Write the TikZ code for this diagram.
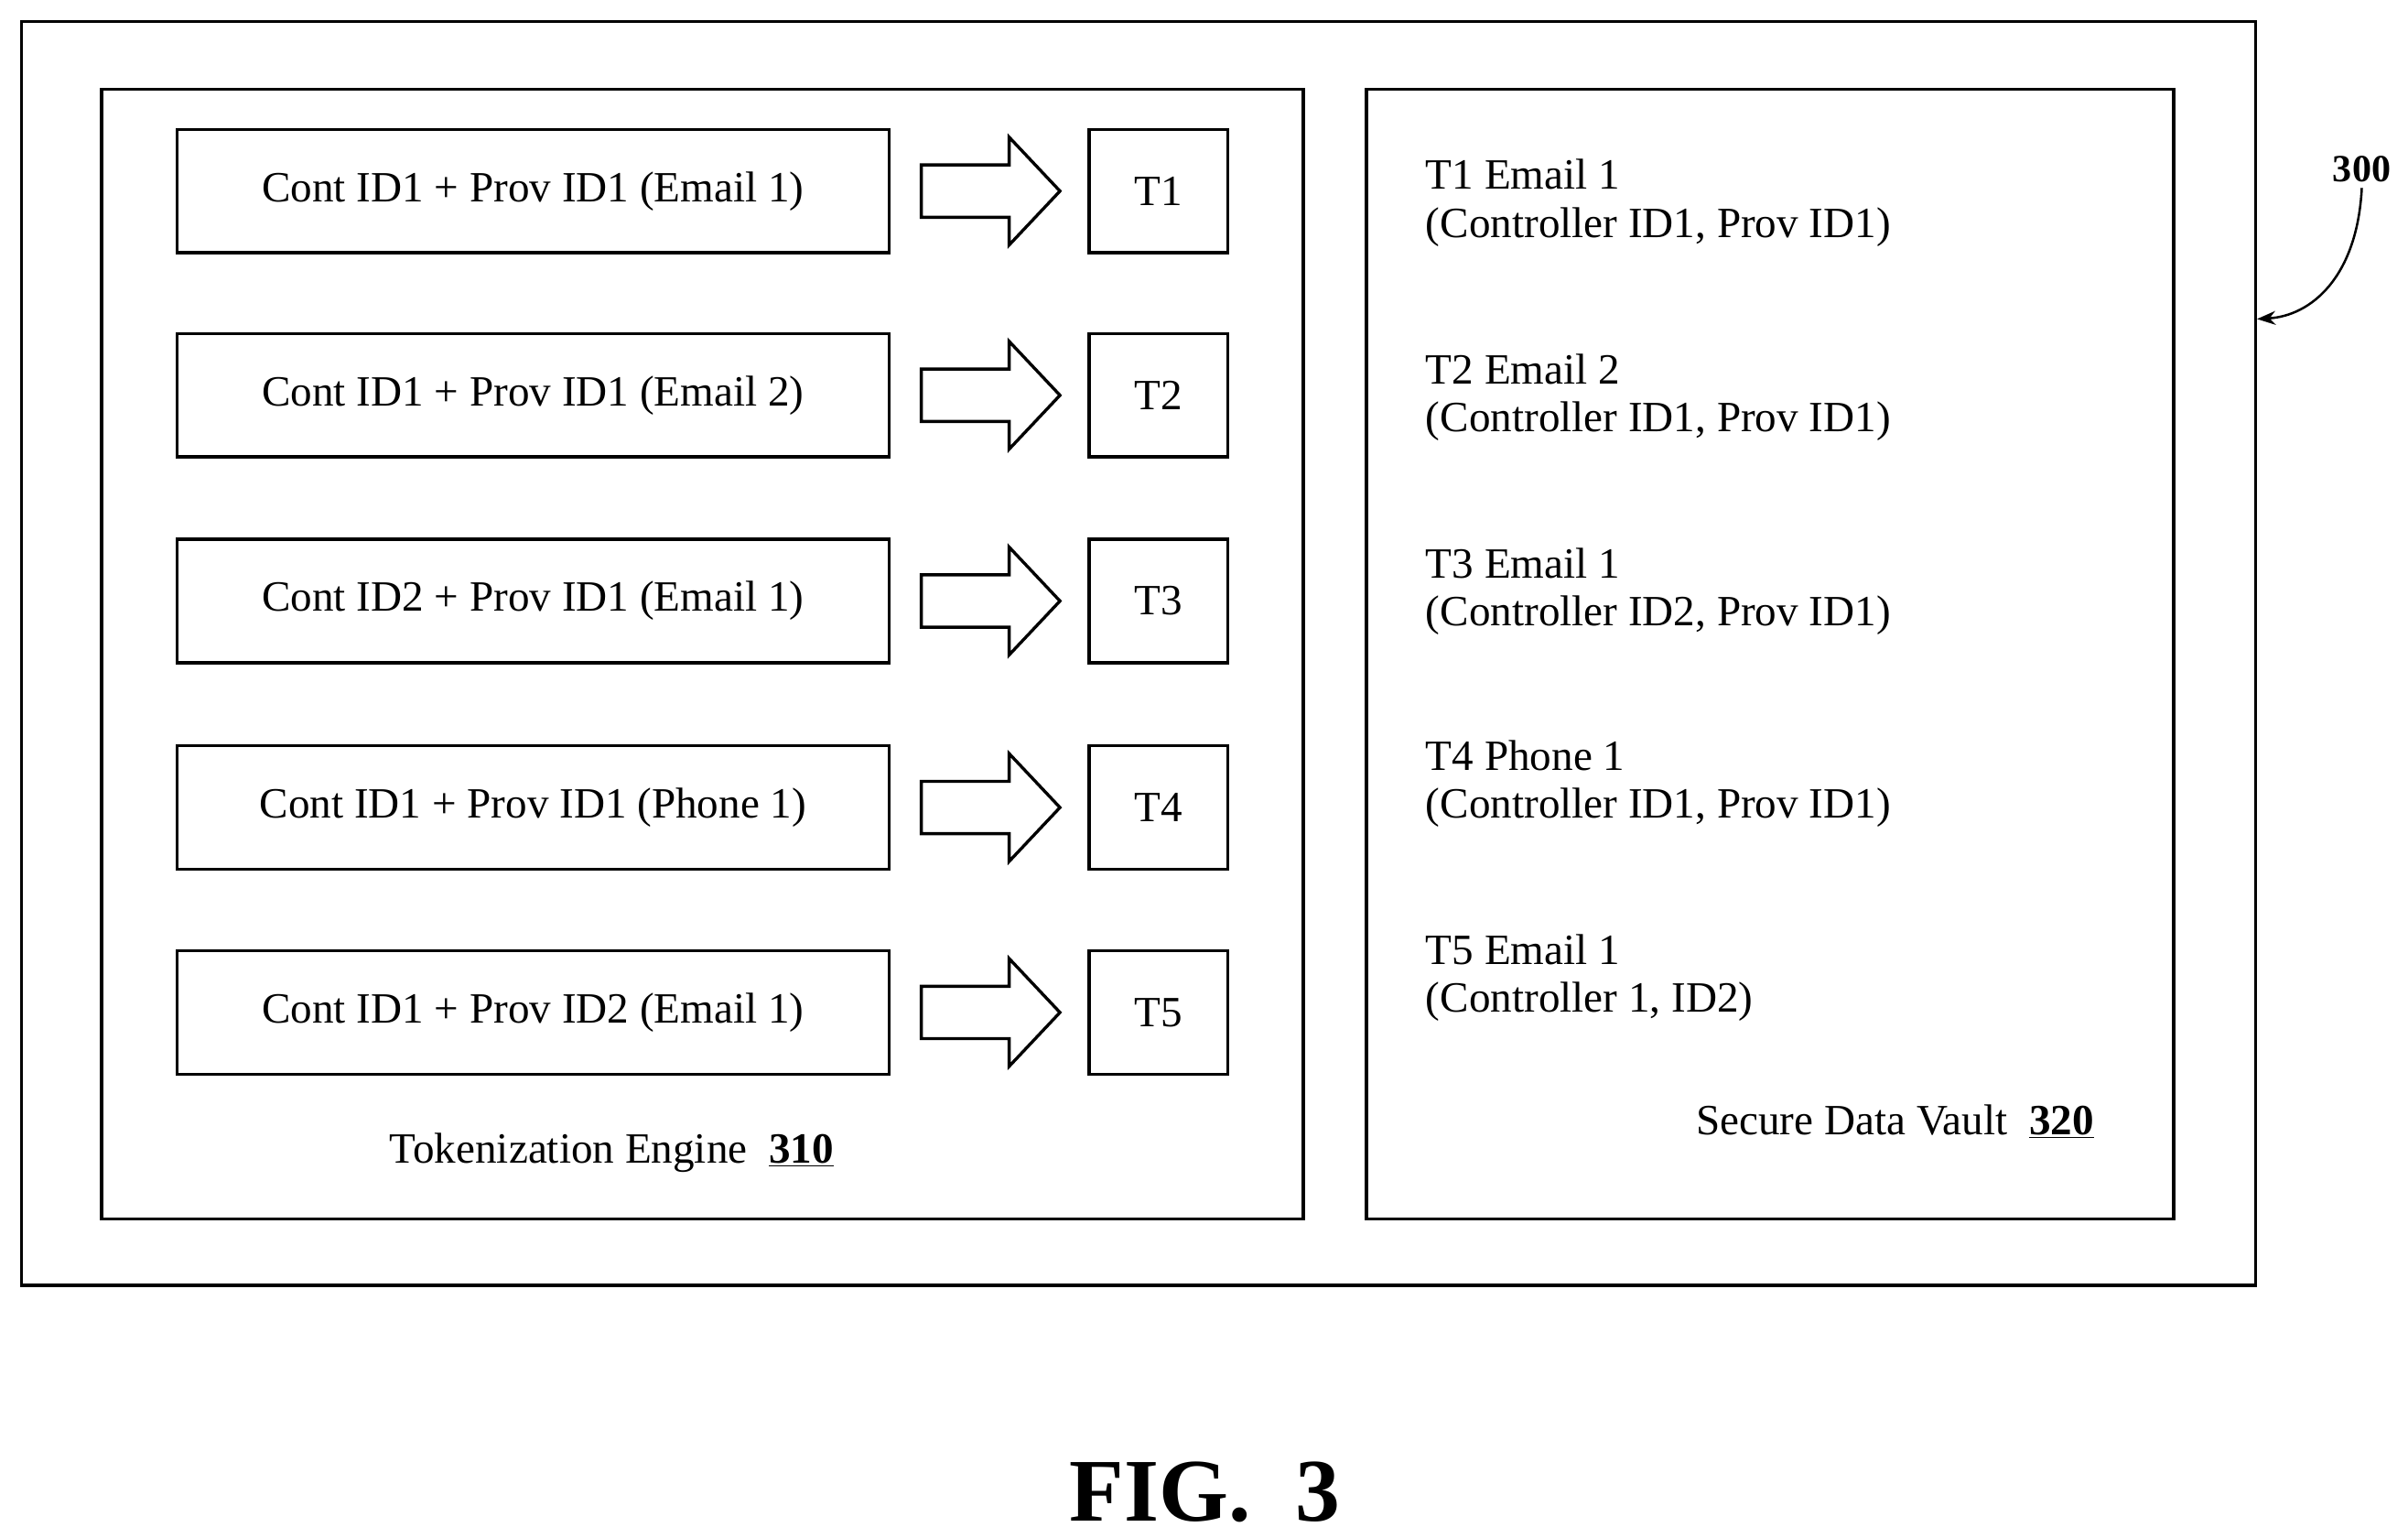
\documentclass[tikz,border=0pt]{standalone}
\usepackage{fontspec}
\setmainfont{Liberation Serif}
\usetikzlibrary{arrows.meta}
\begin{document}
\begin{tikzpicture}[x=1pt,y=-1pt,
 box/.style={draw,line width=2pt},
 inp/.style={box,minimum width=462pt,minimum height=80pt,font=\fontsize{28}{31}\selectfont},
 tok/.style={box,minimum width=90pt,minimum height=80pt,font=\fontsize{28}{31}\selectfont},
 vt/.style={anchor=north west,align=left,font=\fontsize{28}{31}\selectfont}]
\useasboundingbox (0,0) rectangle (1563,998);
\node[box,minimum width=1450pt,minimum height=820pt] (outer) at (739,424) {};
\node[box,minimum width=780pt,minimum height=733pt] (te) at (456,424.5) {};
\node[box,minimum width=524pt,minimum height=733pt] (sdv) at (1149,424.5) {};
\foreach \i/\y/\t in {1/124/Cont ID1 + Prov ID1 (Email 1),2/256.5/Cont ID1 + Prov ID1 (Email 2),3/390/Cont ID2 + Prov ID1 (Email 1),4/524/Cont ID1 + Prov ID1 (Phone 1),5/657/Cont ID1 + Prov ID2 (Email 1)}{
 \node[inp] (in\i) at (346,\y) {\t};
 \node[tok] (t\i) at (752,\y) {T\i};
 \coordinate (a\i) at (598,\y);
 \draw[line width=2pt,line join=miter] (a\i) ++(0,-17) -- ++(57,0) -- ++(0,-18) -- ++(33,35) -- ++(-33,35) -- ++(0,-18) -- ++(-57,0) -- cycle;
}
\node[vt] (v1) at (922,100) {T1 Email 1\\(Controller ID1, Prov ID1)};
\node[vt] (v2) at (922,226) {T2 Email 2\\(Controller ID1, Prov ID1)};
\node[vt] (v3) at (922,352) {T3 Email 1\\(Controller ID2, Prov ID1)};
\node[vt] (v4) at (922,477) {T4 Phone 1\\(Controller ID1, Prov ID1)};
\node[vt] (v5) at (922,603) {T5 Email 1\\(Controller 1, ID2)};
\node[font=\fontsize{28}{31}\selectfont] (tel) at (397,748) {Tokenization Engine\enspace\textbf{\underline{310}}};
\node[font=\fontsize{28}{31}\selectfont] (sdl) at (1230,728) {Secure Data Vault\enspace\textbf{\underline{320}}};
\node[font=\bfseries\fontsize{25}{28}\selectfont] (n300) at (1533,110) {300};
\draw[line width=1.5pt,-{Stealth[length=12pt]}] (n300.south) .. controls (1530,180) and (1500,205) .. (outer.east |- 0,207);
\node[font=\bfseries\fontsize{58}{62}\selectfont] (fig) at (782,968) {FIG.\ \ 3};
\end{tikzpicture}
\end{document}
